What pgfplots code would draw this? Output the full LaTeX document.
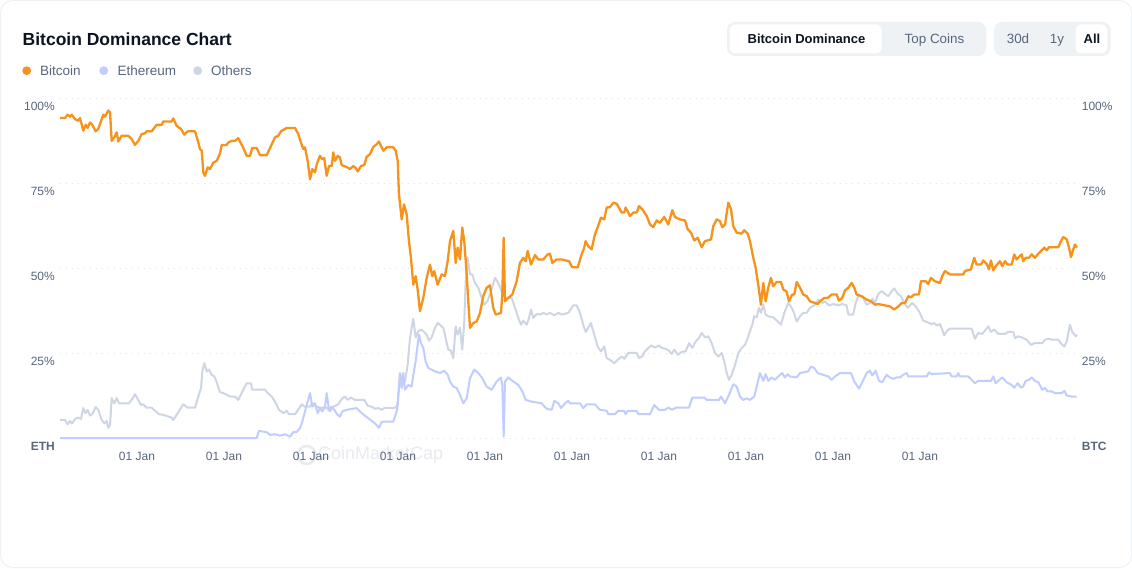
\documentclass[border=0pt]{standalone}
\usepackage{fontspec}
\setmainfont{Liberation Sans}
\usepackage{pgfplots}
\pgfplotsset{compat=1.18}
\usepackage{pgfplotstable}

\definecolor{btc}{RGB}{247,147,26}
\definecolor{eth}{RGB}{193,205,252}
\definecolor{oth}{RGB}{207,214,227}
\definecolor{txtgray}{RGB}{88,102,126}
\definecolor{dark}{RGB}{13,20,33}
\definecolor{btnbg}{RGB}{239,242,245}
\definecolor{gridc}{RGB}{220,224,231}
\definecolor{wm}{RGB}{232,234,238}

% dominance in %, x = fractional year
\pgfplotstableread{
x y
2013.115 94.1
2013.172 94.1
2013.203 95.1
2013.230 94.5
2013.249 95.1
2013.287 93.8
2013.325 93.3
2013.345 94.1
2013.383 90.4
2013.410 92.1
2013.433 91.2
2013.460 92.8
2013.486 92.1
2013.525 90.2
2013.555 90.9
2013.613 95.1
2013.632 94.5
2013.670 96.3
2013.690 95.8
2013.709 87.4
2013.739 88.4
2013.767 89.9
2013.785 87.2
2013.824 88.9
2013.900 88.9
2013.939 87.9
2013.977 86.2
2014.015 87.4
2014.054 89.4
2014.092 89.6
2014.111 90.2
2014.169 90.2
2014.226 92.1
2014.284 92.1
2014.302 93.1
2014.399 93.1
2014.417 94.0
2014.456 91.8
2014.506 90.9
2014.544 89.2
2014.583 90.2
2014.667 90.2
2014.698 87.6
2014.724 85.0
2014.744 84.5
2014.762 78.1
2014.782 77.1
2014.813 79.6
2014.839 79.1
2014.877 81.0
2014.916 81.5
2014.954 83.7
2014.974 86.2
2015.031 86.2
2015.049 86.9
2015.089 87.4
2015.126 87.4
2015.164 88.2
2015.222 85.3
2015.261 83.0
2015.299 83.0
2015.325 85.3
2015.376 85.3
2015.414 83.2
2015.491 83.2
2015.586 88.4
2015.624 88.9
2015.655 90.2
2015.701 90.9
2015.721 91.2
2015.816 91.2
2015.854 89.4
2015.885 86.9
2015.911 85.0
2015.931 85.5
2015.962 81.5
2015.989 76.1
2016.015 79.1
2016.046 78.1
2016.066 80.5
2016.103 83.0
2016.130 82.0
2016.153 82.3
2016.180 77.1
2016.207 80.0
2016.238 80.0
2016.256 84.0
2016.276 81.5
2016.307 83.0
2016.333 82.5
2016.353 80.3
2016.410 79.7
2016.448 79.1
2016.486 80.0
2016.514 79.4
2016.537 78.4
2016.575 80.0
2016.613 80.3
2016.640 82.7
2016.678 83.5
2016.716 85.6
2016.755 86.4
2016.782 87.2
2016.805 85.9
2016.831 84.5
2016.870 85.5
2016.946 85.5
2016.974 84.5
2016.997 81.5
2017.011 71.7
2017.043 64.3
2017.069 68.7
2017.100 65.8
2017.126 57.9
2017.149 53.0
2017.176 45.1
2017.203 47.6
2017.226 43.7
2017.253 37.3
2017.291 41.2
2017.330 47.1
2017.368 51.0
2017.394 47.6
2017.417 49.1
2017.456 45.1
2017.502 48.1
2017.540 47.6
2017.571 52.0
2017.598 57.9
2017.636 60.9
2017.663 51.5
2017.686 56.0
2017.713 52.5
2017.739 61.9
2017.762 57.9
2017.790 48.1
2017.808 40.2
2017.828 32.4
2017.866 33.8
2017.905 34.3
2017.943 36.8
2017.980 41.7
2018.020 44.2
2018.057 44.9
2018.095 38.3
2018.123 36.3
2018.184 36.8
2018.199 42.2
2018.215 58.9
2018.230 40.2
2018.268 41.2
2018.314 42.2
2018.364 46.1
2018.402 51.5
2018.440 53.0
2018.468 52.0
2018.491 55.0
2018.529 51.0
2018.575 53.8
2018.613 52.5
2018.670 52.5
2018.721 54.0
2018.747 54.2
2018.774 51.5
2018.824 52.5
2018.882 52.5
2018.966 52.0
2019.003 50.2
2019.066 50.2
2019.111 54.0
2019.141 56.0
2019.157 57.9
2019.187 56.4
2019.226 55.5
2019.264 59.9
2019.295 61.9
2019.333 64.8
2019.371 64.3
2019.399 67.8
2019.437 67.9
2019.475 69.2
2019.514 68.9
2019.571 66.3
2019.601 66.3
2019.617 67.8
2019.667 65.3
2019.705 66.3
2019.744 66.3
2019.770 68.2
2019.808 67.3
2019.859 65.3
2019.897 62.8
2019.934 62.0
2019.974 64.0
2020.011 63.3
2020.061 65.0
2020.107 62.8
2020.153 67.0
2020.184 65.0
2020.241 64.3
2020.299 64.0
2020.330 61.4
2020.368 60.4
2020.406 58.1
2020.445 58.9
2020.491 56.1
2020.529 57.9
2020.598 58.4
2020.624 62.3
2020.663 64.3
2020.701 63.8
2020.728 62.0
2020.759 62.8
2020.797 69.2
2020.828 67.3
2020.854 62.3
2020.893 60.4
2020.951 60.1
2020.980 61.1
2021.020 60.1
2021.046 57.9
2021.084 53.0
2021.111 50.1
2021.141 45.1
2021.172 39.2
2021.199 45.6
2021.226 40.2
2021.256 44.2
2021.287 47.1
2021.314 44.6
2021.353 45.9
2021.402 45.9
2021.429 43.7
2021.468 43.0
2021.494 40.2
2021.532 42.2
2021.555 42.2
2021.583 45.9
2021.621 44.2
2021.659 42.2
2021.698 41.7
2021.736 40.2
2021.793 39.7
2021.824 39.4
2021.851 40.2
2021.900 41.2
2021.939 41.2
2021.985 42.2
2022.043 42.2
2022.069 40.4
2022.107 41.2
2022.138 43.4
2022.176 44.2
2022.215 45.6
2022.245 44.2
2022.272 42.2
2022.330 41.7
2022.387 40.7
2022.437 40.2
2022.483 39.2
2022.521 39.4
2022.598 39.0
2022.655 38.7
2022.705 37.8
2022.751 38.7
2022.790 39.7
2022.828 39.7
2022.866 41.7
2022.897 41.4
2022.934 42.2
2022.989 42.2
2023.011 46.1
2023.066 46.1
2023.095 45.3
2023.126 47.1
2023.172 46.1
2023.230 45.6
2023.256 47.6
2023.287 49.1
2023.345 48.1
2023.498 48.1
2023.517 49.1
2023.586 49.6
2023.601 51.0
2023.624 53.0
2023.651 51.0
2023.701 51.0
2023.728 52.2
2023.767 51.2
2023.793 49.6
2023.816 52.2
2023.843 49.3
2023.870 50.5
2023.920 52.0
2023.946 50.5
2023.977 52.0
2024.008 51.0
2024.054 51.0
2024.084 54.0
2024.111 52.5
2024.130 53.0
2024.169 54.0
2024.187 52.0
2024.215 53.0
2024.253 53.0
2024.284 54.0
2024.322 53.0
2024.360 54.2
2024.399 55.2
2024.429 56.0
2024.457 55.2
2024.483 56.1
2024.590 56.1
2024.621 57.9
2024.648 59.1
2024.687 58.4
2024.713 56.0
2024.736 53.2
2024.762 55.5
2024.782 56.9
2024.805 56.0
}\btcdata

\pgfplotstableread{
x y
2013.115 0.0
2015.376 0.0
2015.402 2.1
2015.491 1.7
2015.529 0.9
2015.586 1.1
2015.644 0.7
2015.701 1.1
2015.759 0.4
2015.797 1.7
2015.836 1.8
2015.874 2.9
2015.900 4.8
2015.931 7.8
2015.962 10.7
2015.989 13.2
2016.015 9.2
2016.046 10.2
2016.077 7.3
2016.103 8.8
2016.130 7.8
2016.161 9.2
2016.180 13.2
2016.207 8.3
2016.238 9.2
2016.268 8.3
2016.307 6.8
2016.333 6.3
2016.360 7.8
2016.410 8.3
2016.525 8.8
2016.583 7.3
2016.659 5.8
2016.736 4.3
2016.782 3.0
2016.813 4.8
2016.946 4.8
2016.985 7.8
2016.997 9.7
2017.023 18.6
2017.043 14.7
2017.061 19.1
2017.080 14.2
2017.118 15.6
2017.157 15.1
2017.176 18.6
2017.203 22.5
2017.241 30.4
2017.264 27.9
2017.291 26.5
2017.318 22.5
2017.348 20.6
2017.387 20.1
2017.425 19.6
2017.483 19.1
2017.532 19.8
2017.571 18.6
2017.598 16.6
2017.636 15.1
2017.675 14.7
2017.713 12.7
2017.751 10.2
2017.790 11.7
2017.828 17.6
2017.877 20.1
2017.923 19.1
2017.969 17.6
2018.020 15.1
2018.077 14.2
2018.134 16.6
2018.184 17.8
2018.199 15.6
2018.215 0.4
2018.230 16.6
2018.268 17.8
2018.325 16.6
2018.383 15.6
2018.429 13.7
2018.468 11.2
2018.537 10.7
2018.652 10.2
2018.709 8.6
2018.767 8.3
2018.797 10.9
2018.843 10.2
2018.874 8.8
2018.920 10.2
2018.957 10.9
2018.977 10.2
2019.092 10.2
2019.130 8.8
2019.169 9.9
2019.264 9.9
2019.322 8.3
2019.399 8.0
2019.417 7.0
2019.494 7.0
2019.532 8.0
2019.601 8.0
2019.617 7.0
2019.640 8.0
2019.744 8.0
2019.762 7.0
2019.897 7.0
2019.946 9.7
2020.000 8.3
2020.069 8.3
2020.107 8.9
2020.153 8.3
2020.192 8.9
2020.345 8.9
2020.383 11.9
2020.521 11.9
2020.548 11.2
2020.690 11.2
2020.713 12.2
2020.759 10.2
2020.805 12.7
2020.854 15.8
2020.893 15.1
2020.931 12.2
2020.969 11.2
2021.008 11.7
2021.046 11.2
2021.095 12.2
2021.123 15.1
2021.161 19.1
2021.199 16.8
2021.226 18.8
2021.256 16.8
2021.295 17.8
2021.333 17.1
2021.391 18.6
2021.417 19.1
2021.448 17.8
2021.479 18.8
2021.506 18.1
2021.583 17.8
2021.621 19.1
2021.678 19.4
2021.716 19.6
2021.747 21.0
2021.785 20.6
2021.824 19.1
2021.946 18.1
2021.985 17.1
2022.023 18.1
2022.080 19.1
2022.207 19.1
2022.245 16.6
2022.299 14.5
2022.337 16.4
2022.387 19.1
2022.425 19.8
2022.452 18.4
2022.491 19.8
2022.529 16.8
2022.567 16.4
2022.617 18.6
2022.655 17.8
2022.693 17.4
2022.732 17.8
2022.770 17.8
2022.808 18.6
2022.847 19.1
2022.866 18.1
2023.077 18.1
2023.103 19.3
2023.134 18.8
2023.345 19.1
2023.364 18.1
2023.422 18.1
2023.440 19.1
2023.460 18.1
2023.556 18.1
2023.594 17.1
2023.632 16.1
2023.670 16.8
2023.816 16.8
2023.843 18.1
2023.870 16.1
2023.900 16.8
2023.946 17.8
2023.997 16.4
2024.054 15.6
2024.084 14.8
2024.123 16.1
2024.161 14.8
2024.187 15.1
2024.215 16.8
2024.253 17.1
2024.284 17.8
2024.322 16.8
2024.360 16.4
2024.406 14.2
2024.437 14.7
2024.467 13.7
2024.514 13.7
2024.552 13.2
2024.629 13.2
2024.659 13.9
2024.687 12.5
2024.744 12.2
2024.801 12.2
}\ethdata

\pgfplotstableread{
x y
2013.115 5.3
2013.172 5.3
2013.203 4.0
2013.230 5.0
2013.256 4.3
2013.287 5.6
2013.325 6.0
2013.356 5.6
2013.383 8.8
2013.410 7.3
2013.433 8.3
2013.460 6.6
2013.486 7.0
2013.525 9.1
2013.555 8.3
2013.594 5.3
2013.624 4.3
2013.652 5.0
2013.670 3.0
2013.690 3.8
2013.709 11.7
2013.739 10.2
2013.767 11.7
2013.793 10.2
2013.908 10.2
2013.946 11.5
2013.977 12.9
2014.008 11.5
2014.046 9.7
2014.072 9.9
2014.111 8.9
2014.169 8.9
2014.207 8.0
2014.253 7.0
2014.302 6.8
2014.399 6.0
2014.417 5.3
2014.456 6.8
2014.506 8.9
2014.532 9.9
2014.583 8.9
2014.667 8.9
2014.705 12.2
2014.736 14.7
2014.751 19.6
2014.774 22.0
2014.801 19.6
2014.828 20.1
2014.859 18.6
2014.889 18.1
2014.916 16.4
2014.954 13.5
2014.992 13.2
2015.049 12.5
2015.069 12.2
2015.126 12.2
2015.164 11.2
2015.222 14.2
2015.261 16.1
2015.310 16.1
2015.325 14.2
2015.471 14.2
2015.502 13.2
2015.548 12.2
2015.586 10.7
2015.632 8.3
2015.682 7.3
2015.721 8.0
2015.747 7.0
2015.816 7.0
2015.854 8.3
2015.893 9.9
2015.931 9.2
2015.989 9.2
2016.015 10.2
2016.066 9.2
2016.103 8.9
2016.180 8.9
2016.218 7.8
2016.256 9.2
2016.314 9.9
2016.353 11.5
2016.391 12.2
2016.422 11.2
2016.460 11.9
2016.506 11.2
2016.613 11.2
2016.652 9.5
2016.698 9.2
2016.736 8.6
2016.774 8.8
2016.813 8.3
2016.851 8.9
2016.946 8.8
2016.985 9.2
2016.997 10.7
2017.023 19.1
2017.049 17.1
2017.080 16.6
2017.111 21.5
2017.138 29.4
2017.176 35.1
2017.203 29.6
2017.233 31.4
2017.264 31.9
2017.291 31.4
2017.330 30.4
2017.356 28.6
2017.387 29.6
2017.425 32.4
2017.456 33.8
2017.483 33.3
2017.521 32.4
2017.548 29.4
2017.578 26.0
2017.609 25.7
2017.636 23.5
2017.663 32.8
2017.686 30.4
2017.713 32.4
2017.739 26.0
2017.762 34.3
2017.778 46.1
2017.801 53.0
2017.828 48.1
2017.854 48.1
2017.885 45.6
2017.923 44.2
2017.962 41.2
2017.992 39.2
2018.031 40.4
2018.069 43.2
2018.115 47.1
2018.153 45.6
2018.192 43.2
2018.230 41.2
2018.307 41.2
2018.345 38.3
2018.391 34.8
2018.414 33.3
2018.440 34.5
2018.479 33.3
2018.506 35.3
2018.529 37.8
2018.555 35.3
2018.594 36.5
2018.632 36.3
2018.670 36.8
2018.709 36.3
2018.747 36.8
2018.797 36.1
2018.843 36.8
2018.882 36.3
2018.957 36.8
2018.977 37.5
2019.015 39.0
2019.054 39.0
2019.092 36.8
2019.130 33.3
2019.157 31.2
2019.187 32.4
2019.218 33.8
2019.256 30.4
2019.295 26.9
2019.333 25.5
2019.371 26.9
2019.399 23.5
2019.437 23.0
2019.486 22.0
2019.525 23.0
2019.571 24.0
2019.601 23.3
2019.647 25.0
2019.744 25.0
2019.770 23.5
2019.808 24.0
2019.839 25.5
2019.908 27.2
2019.954 26.6
2020.000 27.2
2020.031 26.5
2020.069 26.3
2020.115 25.7
2020.146 24.7
2020.176 26.0
2020.215 24.5
2020.261 25.3
2020.307 25.5
2020.345 27.9
2020.383 26.5
2020.422 28.4
2020.460 29.4
2020.491 30.9
2020.529 29.6
2020.567 29.9
2020.606 27.9
2020.644 25.0
2020.682 24.0
2020.721 25.0
2020.751 22.5
2020.778 19.1
2020.805 17.1
2020.836 18.6
2020.874 21.5
2020.912 25.0
2020.951 26.5
2020.989 27.4
2021.020 29.4
2021.046 31.4
2021.072 33.3
2021.095 35.8
2021.123 35.5
2021.149 38.3
2021.172 36.8
2021.199 39.2
2021.226 36.3
2021.256 35.8
2021.314 35.5
2021.364 34.3
2021.402 33.3
2021.440 36.8
2021.486 39.7
2021.517 38.7
2021.544 37.3
2021.583 34.3
2021.621 35.8
2021.659 36.8
2021.698 36.8
2021.736 38.3
2021.785 39.0
2021.831 40.7
2021.877 39.7
2021.908 40.2
2021.954 39.0
2022.003 39.4
2022.061 39.0
2022.107 39.4
2022.157 39.0
2022.176 36.3
2022.233 36.3
2022.261 39.7
2022.299 42.2
2022.349 41.0
2022.387 39.2
2022.425 39.7
2022.452 41.0
2022.483 39.7
2022.521 42.4
2022.560 43.2
2022.598 42.4
2022.636 41.7
2022.675 43.2
2022.705 44.0
2022.744 42.4
2022.782 41.7
2022.820 39.7
2022.859 38.3
2022.911 39.7
2022.951 38.7
2022.989 37.3
2023.038 34.5
2023.077 34.1
2023.134 33.5
2023.164 33.8
2023.192 33.1
2023.230 33.5
2023.256 31.9
2023.279 30.2
2023.307 31.4
2023.345 32.2
2023.594 32.2
2023.632 29.2
2023.670 30.9
2023.716 30.6
2023.747 31.6
2023.785 32.8
2023.816 31.2
2023.854 31.9
2023.900 30.6
2023.977 30.6
2024.015 31.2
2024.072 31.2
2024.092 29.4
2024.130 29.9
2024.187 29.4
2024.226 28.9
2024.276 27.4
2024.314 27.9
2024.406 27.9
2024.437 28.9
2024.475 29.2
2024.514 28.9
2024.590 28.9
2024.629 27.6
2024.659 26.9
2024.687 28.4
2024.724 33.3
2024.751 31.2
2024.790 29.9
2024.805 30.4
}\othdata

\begin{document}
\begin{tikzpicture}
\useasboundingbox (0,0) rectangle (1132pt,568pt);
\fill[white] (0,0) rectangle (1132pt,568pt);
\draw[btnbg, line width=1pt, rounded corners=12pt] (0.5pt,0.5pt) rectangle (1131.5pt,567.5pt);

% title and legend
\node[anchor=base west, inner sep=0pt, text=dark, font=\fontsize{17.5}{20}\selectfont\bfseries] at (22.5pt,522.7pt) {Bitcoin Dominance Chart};
\fill[btc] (26.7pt,497.3pt) circle (4.4pt);
\node[anchor=base west, inner sep=0pt, text=txtgray, font=\fontsize{13.5}{16}\selectfont] at (40pt,492.5pt) {Bitcoin};
\fill[eth] (103.7pt,497.3pt) circle (4.4pt);
\node[anchor=base west, inner sep=0pt, text=txtgray, font=\fontsize{13.5}{16}\selectfont] at (117.3pt,492.5pt) {Ethereum};
\fill[oth] (197.7pt,497.3pt) circle (4.4pt);
\node[anchor=base west, inner sep=0pt, text=txtgray, font=\fontsize{13.5}{16}\selectfont] at (211pt,492.5pt) {Others};

% switches
\fill[btnbg, rounded corners=8pt] (727pt,512pt) rectangle (986pt,546pt);
\fill[white, rounded corners=6pt] (729.5pt,514.5pt) rectangle (881.7pt,543.5pt);
\node[anchor=base, inner sep=0pt, text=dark, font=\fontsize{13}{15}\selectfont\bfseries] at (806.5pt,524.3pt) {Bitcoin Dominance};
\node[anchor=base, inner sep=0pt, text=txtgray, font=\fontsize{13.4}{15}\selectfont] at (934.5pt,524.3pt) {Top Coins};
\fill[btnbg, rounded corners=8pt] (994pt,512pt) rectangle (1110.7pt,546pt);
\fill[white, rounded corners=6pt] (1075.7pt,514.5pt) rectangle (1107.3pt,543.5pt);
\node[anchor=base, inner sep=0pt, text=txtgray, font=\fontsize{13.4}{15}\selectfont] at (1018pt,524.3pt) {30d};
\node[anchor=base, inner sep=0pt, text=txtgray, font=\fontsize{13.4}{15}\selectfont] at (1057pt,524.3pt) {1y};
\node[anchor=base, inner sep=0pt, text=dark, font=\fontsize{13}{15}\selectfont\bfseries] at (1092pt,524.3pt) {All};

% watermark (behind the tick labels, as in the original)
\draw[wm, line width=2.5pt] (306.7pt,113pt) circle (9pt);
\node[anchor=west, inner sep=0pt, text=wm, font=\fontsize{18}{20}\selectfont] at (318pt,113pt) {CoinMarketCap};

\begin{axis}[
  at={(60pt,130pt)}, anchor=south west,
  scale only axis, width=1017pt, height=340pt,
  xmin=2013.115, xmax=2024.805, ymin=0, ymax=100,
  axis line style={draw=none},
  major tick length=0pt, tick style={draw=none},
  xtick={2014,2015,2016,2017,2018,2019,2020,2021,2022,2023},
  xticklabel={01 Jan},
  ytick={0,25,50,75,100},
  yticklabels={\textbf{ETH},25\%,50\%,75\%,100\%},
  ymajorgrids,
  grid style={gridc, line width=0.9pt, dash pattern=on 1pt off 5pt},
  tick label style={font=\fontsize{12}{14}\selectfont, text=txtgray, inner sep=0pt},
  yticklabel style={anchor=east, xshift=-5pt, yshift=-8pt},
  xticklabel style={anchor=center, yshift=-18.5pt},
  clip=false,
]
\addplot[oth, line width=2pt, line join=round] table {\othdata};
\addplot[eth, line width=2pt, line join=round] table {\ethdata};
\addplot[btc, line width=2.3pt, line join=round] table {\btcdata};
\end{axis}

\begin{axis}[
  at={(60pt,130pt)}, anchor=south west,
  scale only axis, width=1017pt, height=340pt,
  xmin=2013.115, xmax=2024.805, ymin=0, ymax=100,
  axis line style={draw=none},
  major tick length=0pt, tick style={draw=none},
  xtick=\empty,
  ytick={0,25,50,75,100},
  yticklabels={\textbf{BTC},25\%,50\%,75\%,100\%},
  yticklabel pos=right,
  tick label style={font=\fontsize{12}{14}\selectfont, text=txtgray, inner sep=0pt},
  yticklabel style={anchor=west, xshift=4.7pt, yshift=-8pt},
]
\addplot[draw=none] coordinates {(2014,0)};
\end{axis}
\end{tikzpicture}
\end{document}
